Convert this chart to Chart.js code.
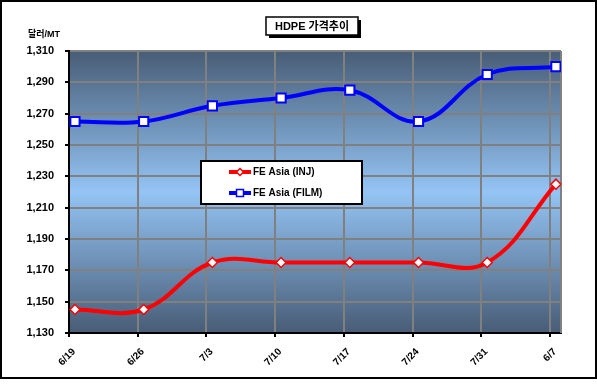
<!DOCTYPE html>
<html><head><meta charset="utf-8">
<script src="https://cdn.jsdelivr.net/npm/chart.js@4/dist/chart.umd.min.js"></script>
<style>html,body{margin:0;padding:0;background:#fff;}#wrap{width:597px;height:384px;position:relative;}</style>
</head><body><div id="wrap"><canvas id="c" width="597" height="384"></canvas></div>
<script>
const categories = ['6/19','6/26','7/3','7/10','7/17','7/24','7/31','6/7'];
const injValues  = [1145,1145,1175,1175,1175,1175,1175,1225];
const filmValues = [1265,1265,1275,1280,1285,1265,1295,1300];
const yTicks = [1130,1150,1170,1190,1210,1230,1250,1270,1290,1310];
const seriesNames = ['FE Asia (INJ)','FE Asia (FILM)'];
const chartTitle = 'HDPE 가격추이';
const unitLabel = '달러/MT';

const GRID_SHIFT = 0.087;
const FONT = '"Liberation Sans", Arial, sans-serif';

const decor = {
  id: 'decor',
  beforeDraw(chart) {
    const {ctx, chartArea: a} = chart;
    ctx.save();
    ctx.fillStyle = '#fff';
    ctx.fillRect(0, 0, chart.width, chart.height);
    const g = ctx.createLinearGradient(0, a.top, 0, a.bottom);
    g.addColorStop(0, '#485d76');
    g.addColorStop(0.5, '#94c4f4');
    g.addColorStop(1, '#485c76');
    ctx.fillStyle = g;
    ctx.fillRect(a.left, a.top, a.right - a.left, a.bottom - a.top);
    ctx.restore();
  },
  beforeDatasetsDraw(chart) {
    const {ctx, chartArea: a} = chart;
    ctx.save();
    ctx.strokeStyle = '#808080';
    ctx.lineWidth = 2;
    ctx.beginPath();
    ctx.moveTo(a.right, a.top); ctx.lineTo(a.right, a.bottom);
    ctx.stroke();
    ctx.restore();
  },
  afterDraw(chart) {
    const {ctx} = chart;
    ctx.save();
    ctx.strokeStyle = '#000';
    ctx.lineWidth = 2;
    ctx.strokeRect(1, 1, 595, 377);
    ctx.fillStyle = '#000';
    ctx.fillRect(269, 20, 92, 18);
    ctx.fillStyle = '#fff';
    ctx.fillRect(266, 17, 92, 18);
    ctx.lineWidth = 1.5;
    ctx.strokeRect(266, 17, 92, 18);
    ctx.fillStyle = '#000';
    ctx.font = 'bold 11px ' + FONT + ', "Noto Sans CJK KR"';
    ctx.textAlign = 'center';
    ctx.textBaseline = 'middle';
    ctx.fillText(chartTitle, 312, 26.5);
    ctx.font = 'bold 9px ' + FONT + ', "Noto Sans CJK KR"';
    ctx.textAlign = 'left';
    ctx.fillText(unitLabel, 28, 35);
    ctx.fillStyle = '#fff';
    ctx.fillRect(201, 161, 161, 43);
    ctx.strokeStyle = '#000';
    ctx.lineWidth = 2;
    ctx.strokeRect(201, 161, 161, 43);
    const items = [
      {name: seriesNames[0], color: '#ff0000', y: 172, style: 'diamond'},
      {name: seriesNames[1], color: '#0000ff', y: 193, style: 'square'}
    ];
    items.forEach(it => {
      ctx.strokeStyle = it.color;
      ctx.lineWidth = 4;
      ctx.beginPath();
      ctx.moveTo(229, it.y); ctx.lineTo(251, it.y);
      ctx.stroke();
      ctx.fillStyle = '#fff';
      ctx.lineWidth = 1.5;
      if (it.style === 'diamond') {
        ctx.beginPath();
        ctx.moveTo(240, it.y - 3.5); ctx.lineTo(243.5, it.y);
        ctx.lineTo(240, it.y + 3.5); ctx.lineTo(236.5, it.y);
        ctx.closePath(); ctx.fill(); ctx.stroke();
      } else {
        ctx.fillRect(236.5, it.y - 3.5, 7, 7);
        ctx.strokeRect(236.5, it.y - 3.5, 7, 7);
      }
      ctx.fillStyle = '#000';
      ctx.font = 'bold 10px ' + FONT;
      ctx.textAlign = 'left';
      ctx.textBaseline = 'middle';
      ctx.fillText(it.name, 253, it.y + 0.5);
    });
    ctx.restore();
  }
};

new Chart(document.getElementById('c'), {
  type: 'line',
  data: {
    datasets: [
      {
        label: seriesNames[0],
        data: injValues.map((v, i) => ({x: i, y: v})),
        borderColor: '#ff0000', borderWidth: 4,
        pointStyle: 'rectRot', pointRadius: 5, pointBorderWidth: 1.5,
        pointBackgroundColor: '#fff', pointBorderColor: '#ff0000',
        tension: 0.4, fill: false
      },
      {
        label: seriesNames[1],
        data: filmValues.map((v, i) => ({x: i, y: v})),
        borderColor: '#0000ff', borderWidth: 4,
        pointStyle: 'rect', pointRadius: 6.5, pointBorderWidth: 2,
        pointBackgroundColor: '#fff', pointBorderColor: '#0000ff',
        tension: 0.4, fill: false
      }
    ]
  },
  options: {
    responsive: false,
    animation: false,
    devicePixelRatio: 1,
    layout: {padding: {top: 51, right: 36, left: 0, bottom: 0}},
    plugins: {legend: {display: false}, title: {display: false}, tooltip: {enabled: false}},
    scales: {
      x: {
        type: 'linear',
        min: -GRID_SHIFT,
        max: 7.074,
        afterBuildTicks(scale) {
          scale.ticks = categories.map((c, k) => ({value: k - GRID_SHIFT}));
        },
        afterFit(scale) { scale.height = 51; },
        grid: {color: '#808080', lineWidth: 2, tickColor: '#000', tickLength: 4, drawTicks: true},
        border: {color: '#000', width: 2},
        ticks: {
          autoSkip: false, minRotation: 45, maxRotation: 45,
          color: '#000', font: {family: FONT, size: 10, weight: 'bold'},
          padding: 9, labelOffset: 5,
          callback(v) { return categories[Math.round(v + GRID_SHIFT)]; }
        }
      },
      y: {
        min: 1130, max: 1310,
        afterBuildTicks(scale) { scale.ticks = yTicks.map(v => ({value: v})); },
        afterFit(scale) { scale.width = 69; },
        grid: {color: '#808080', lineWidth: 2, tickColor: '#000', tickLength: 4, drawTicks: true},
        border: {color: '#000', width: 2},
        ticks: {
          color: '#000', font: {family: FONT, size: 11, weight: 'bold'}, padding: 11,
          callback(v) { return v.toLocaleString('en-US'); }
        }
      }
    }
  },
  plugins: [decor]
});
</script></body></html>
